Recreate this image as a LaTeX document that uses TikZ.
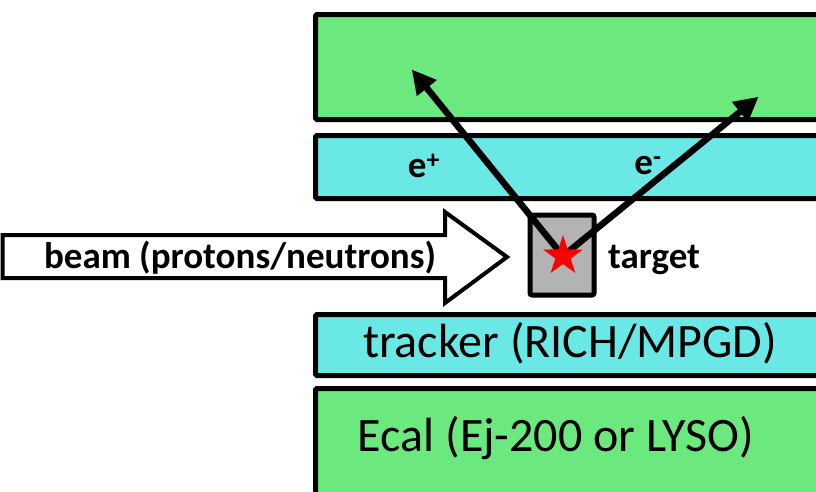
\documentclass[tikz,border=0pt]{standalone}
\usepackage{fontspec}
\setmainfont{Carlito}
\usetikzlibrary{shapes.geometric,arrows.meta}
\definecolor{calgreen}{HTML}{6CE97E}
\definecolor{trkcyan}{HTML}{69E8E6}
\definecolor{tgtgray}{HTML}{B3B3B3}
\tikzset{
  layer/.style={draw=black, line width=5pt, rounded corners=1.5pt, inner sep=0pt, anchor=north west},
  track/.style={line width=6.5pt, -{Triangle[length=24pt,width=24pt]}, shorten >=-2pt},
  lbl/.style={font=\bfseries\fontsize{37}{40}\selectfont, inner sep=0pt},
  big/.style={font=\fontsize{48}{54}\selectfont, inner sep=0pt}
}
\begin{document}
\begin{tikzpicture}[x=1pt,y=-1pt]
\useasboundingbox (0,0) rectangle (816,491);
\clip (0,0) rectangle (816,491);
% detector layers
\node[layer, fill=calgreen, minimum width=520pt, minimum height=105pt] (ecalTop) at (313,12) {};
\node[layer, fill=trkcyan, minimum width=520pt, minimum height=63pt] (trkTop) at (313,133) {};
\node[layer, fill=trkcyan, minimum width=520pt, minimum height=61pt] (trkBot) at (313,312) {};
\node[layer, fill=calgreen, minimum width=520pt, minimum height=120pt] (ecalBot) at (313,386) {};
\node[big] (trkText) at (570,343) {tracker (RICH/MPGD)};
\node[big] (ecalText) at (556,438) {Ecal (Ej-200 or LYSO)};
% beam arrow
\draw[line width=4pt, fill=white, line join=miter]
  (2.5,235) -- (445,235) -- (445,212) -- (507,257) -- (445,303) -- (445,278) -- (2.5,278) -- cycle;
\node[lbl] (beamText) at (240,258) {beam (protons/neutrons)};
% target
\node[draw=black, line width=5pt, fill=tgtgray, rounded corners=2pt, minimum width=64pt, minimum height=80pt, inner sep=0pt] (target) at (562,255) {};
\node[lbl, anchor=west] (targetText) at (608,260) {target};
% tracks
\coordinate (vtx) at (563,256);
\coordinate (posEnd) at (413,71);
\coordinate (eleEnd) at (757,98);
\draw[track] (vtx) -- (posEnd);
\draw[track] (vtx) -- (eleEnd);
\node[star, star points=5, star point ratio=2.6, fill=red, minimum size=42pt, inner sep=0pt] (vertexStar) at (vtx) {};
\node[lbl] (posText) at (424,166) {e\textsuperscript{+}};
\node[lbl] (eleText) at (648,166) {e\textsuperscript{-}};
\end{tikzpicture}
\end{document}
